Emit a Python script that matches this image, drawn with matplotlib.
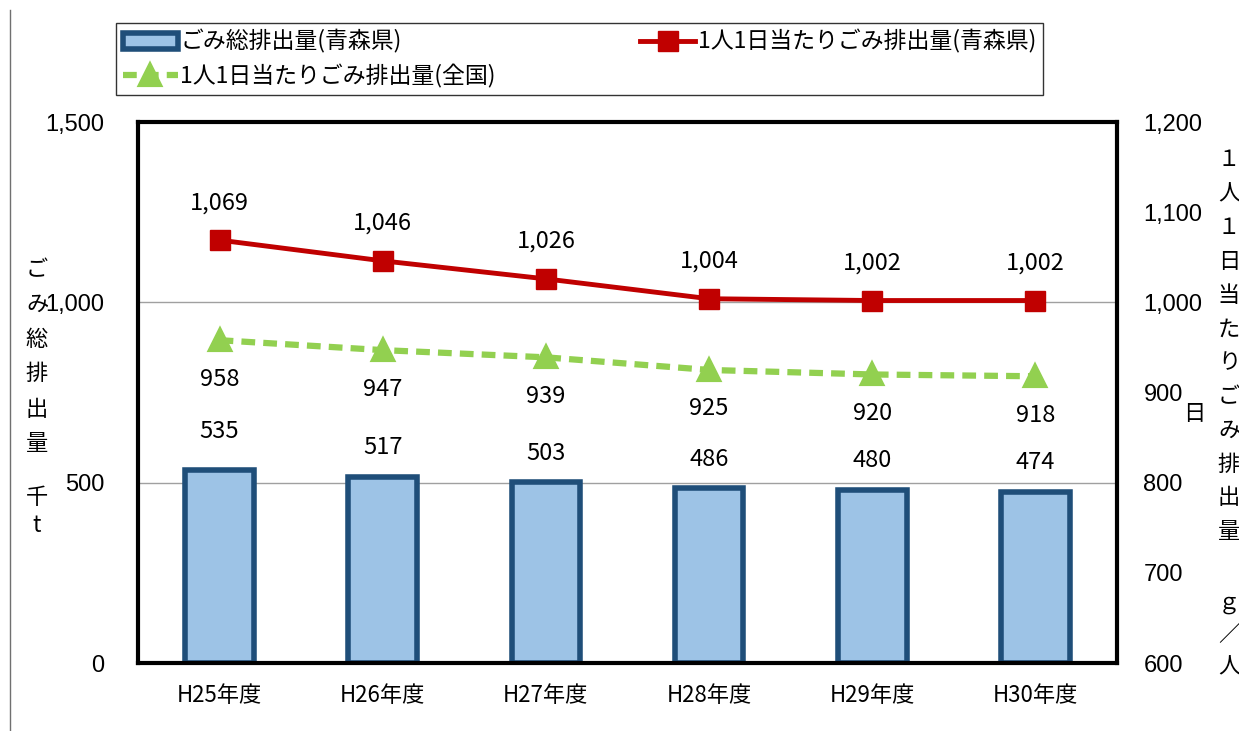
import matplotlib
matplotlib.use("Agg")
import matplotlib.pyplot as plt
import numpy as np

plt.rcParams['font.family'] = ['Noto Sans CJK JP', 'DejaVu Sans']

years = ['H25年度', 'H26年度', 'H27年度', 'H28年度', 'H29年度', 'H30年度']
total_aomori = [535, 517, 503, 486, 480, 474]
per_person_aomori = [1069, 1046, 1026, 1004, 1002, 1002]
per_person_japan = [958, 947, 939, 925, 920, 918]

W, H = 1239, 731
fig = plt.figure(figsize=(W / 100, H / 100), dpi=100)
ax = fig.add_axes([138 / W, 1 - 663 / H, 979 / W, 541 / H])
ax2 = ax.twinx()

x = np.arange(len(years))
bar_fill = '#9DC3E6'
bar_edge = '#1F4E79'
red = '#C00000'
green = '#92D050'

ax.bar(x, total_aomori, width=0.42, color=bar_fill, edgecolor=bar_edge,
       linewidth=4, zorder=2, label='ごみ総排出量(青森県)')
ax.set_xlim(-0.5, len(years) - 0.5)
ax.set_ylim(0, 1500)
ax.set_yticks([0, 500, 1000, 1500])
ax.set_yticklabels(['0', '500', '1,000', '1,500'])
ax.yaxis.grid(True, color='#A0A0A0', linewidth=1)
ax.set_axisbelow(True)
ax.set_xticks(x)
ax.set_xticklabels(years)
ax.tick_params(axis='both', length=0)
ax.tick_params(axis='x', pad=15, labelsize=16)
ax.tick_params(axis='y', pad=24, labelsize=17)
for t in ax.get_yticklabels():
    t.set_family('Liberation Sans')
for s in ax.spines.values():
    s.set_linewidth(3)
    s.set_color('black')

ax2.plot(x, per_person_japan, color=green, linewidth=4.5, linestyle=(0, (2.2, 1.3)),
         marker='^', markersize=14, markerfacecolor=green, markeredgecolor=green,
         markeredgewidth=3, label='1人1日当たりごみ排出量(全国)', zorder=3)
ax2.plot(x, per_person_aomori, color=red, linewidth=3.5, marker='s', markersize=14,
         markerfacecolor=red, markeredgecolor=red,
         label='1人1日当たりごみ排出量(青森県)', zorder=4)
ax2.set_ylim(600, 1200)
ax2.set_yticks(np.arange(600, 1201, 100))
ax2.set_yticklabels(['600', '700', '800', '900', '1,000', '1,100', '1,200'])
ax2.tick_params(axis='y', length=0, pad=19, labelsize=17)
for t in ax2.get_yticklabels():
    t.set_family('Liberation Sans')
for s in ax2.spines.values():
    s.set_visible(False)

bar_offsets = [28, 21, 20, 20, 21, 21]
for xi, v, off in zip(x, total_aomori, bar_offsets):
    ax.annotate(str(v), (xi, v), xytext=(0, off), textcoords='offset points',
                ha='center', va='center', fontsize=17)
for xi, v in zip(x, per_person_aomori):
    ax2.annotate(f'{v:,}', (xi, v), xytext=(0, 27), textcoords='offset points',
                 ha='center', va='center', fontsize=17)
for xi, v in zip(x, per_person_japan):
    ax2.annotate(str(v), (xi, v), xytext=(0, -28), textcoords='offset points',
                 ha='center', va='center', fontsize=17)

# stacked vertical axis titles
def px(xp, yp, s, **kw):
    fig.text(xp / W, 1 - yp / H, s, ha='center', va='center', fontsize=16, **kw)

for ch, yp in zip('ごみ総排出量', [270, 304, 339, 374, 409, 443]):
    px(37, yp, ch)
px(37, 497, '千')
px(37, 525, 't')

right_chars = ['１', '人', '１', '日', '当', 'た', 'り', 'ご', 'み', '排', '出', '量']
for i, ch in enumerate(right_chars):
    px(1229, 160 + i * 33.8, ch)
px(1229, 603, 'ｇ')
px(1229, 635, '／')
px(1229, 667, '人')
px(1194, 413, '日')

fig.add_artist(plt.Line2D([10 / W, 10 / W], [1 - 10 / H, 0], color='#707070', linewidth=1))

h1, l1 = ax.get_legend_handles_labels()
h2, l2 = ax2.get_legend_handles_labels()
leg = fig.legend([h1[0], h2[0], h2[1]], [l1[0], l2[0], l2[1]], ncol=2,
                 loc='lower left', bbox_to_anchor=(116 / W, 1 - 95 / H, 927 / W, 70 / H),
                 mode='expand', fontsize=16.5, frameon=True, fancybox=False,
                 edgecolor='black', handlelength=2.4, handletextpad=0.1,
                 borderaxespad=0, labelspacing=0.45, borderpad=0.3,
                 columnspacing=0.5)
leg.get_frame().set_linewidth(1)

fig.savefig('out.png', dpi=100)
